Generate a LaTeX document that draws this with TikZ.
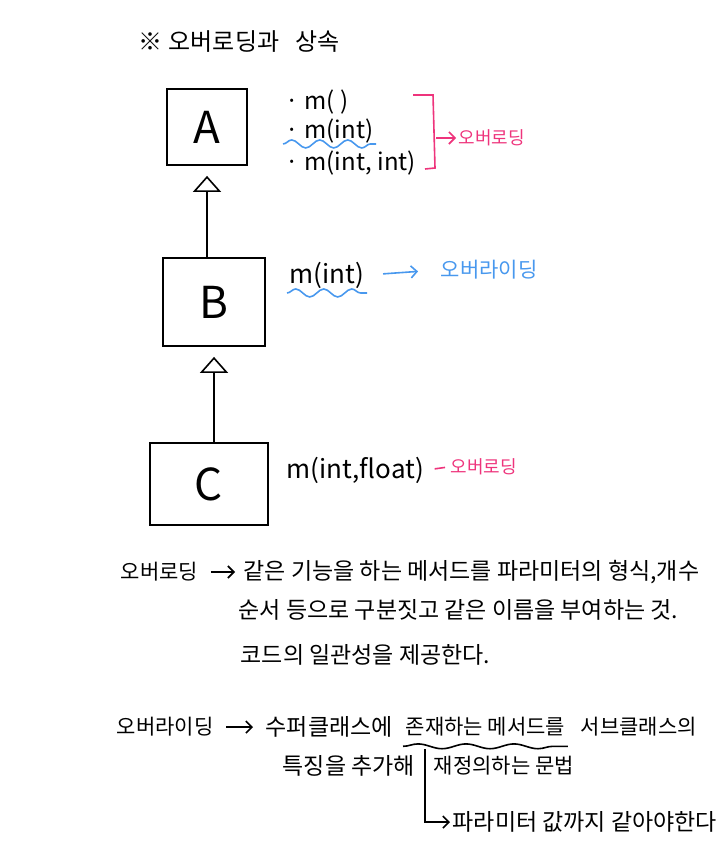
\documentclass[tikz,border=0pt]{standalone}
\usepackage{fontspec}
\setmainfont{Noto Sans CJK KR}
\usetikzlibrary{arrows.meta,decorations.pathmorphing}
\definecolor{notepink}{RGB}{238,52,124}
\definecolor{noteblue}{RGB}{72,152,238}

\begin{document}
\begin{tikzpicture}[x=0.5pt,y=-0.5pt,line width=0.8pt,>={Straight Barb[length=3pt,width=6pt]}]
                \tikzstyle{cls}=[rectangle,draw=black,line width=0.9pt,font=\fontsize{22}{24}\selectfont,inner sep=0pt]
                \tikzstyle{code}=[anchor=west,inner sep=1pt,font=\fontsize{13}{15}\selectfont]
                \tikzstyle{note}=[anchor=west,inner sep=1pt,font=\fontsize{11.5}{13}\selectfont]
                \tikzstyle{notesm}=[anchor=west,inner sep=1pt,font=\fontsize{10.5}{12}\selectfont]
                \tikzstyle{tag}=[anchor=west,inner sep=1pt,font=\fontsize{9}{11}\selectfont]
                \tikzstyle{inherit}=[-{Triangle[open,length=8pt,width=14pt]},shorten >=5pt]
                \tikzstyle{wavy}=[decorate,decoration={snake,amplitude=2pt,segment length=14pt}]
                \useasboundingbox (0,0) rectangle (720,849);

                \node[anchor=west,inner sep=1pt,font=\fontsize{12}{14}\selectfont] (title) at (136,42) {※\hspace{3pt}오버로딩과\hspace{8pt}상속};

                \foreach \name/\x/\y/\w/\h in {A/207/127/40pt/38pt, B/214/302/51pt/44pt, C/209/484/59pt/41pt}
                        \node[cls,minimum width=\w,minimum height=\h] (\name) at (\x,\y) {\name};

                    \draw[inherit] (B.north -| A.south) -- (A.south);
                    \draw[inherit] (C.north -| B.south) -- (B.south);

                \foreach \i/\y/\txt in {1/102/{· m( )}, 2/131/{· m(int)}, 3/163/{· m(int, int)}}
                        \node[code,font=\fontsize{12}{14}\selectfont] (ma\i) at (283,\y) {\txt};
                \node[code] (mb) at (287,275) {m(int)};
                \node[code] (mc) at (284,470) {m(int,float)};

                \draw[wavy,noteblue] ([yshift=1pt]ma2.south west) -- ([yshift=1pt]ma2.south east);
                \draw[wavy,noteblue] ([yshift=-1pt]mb.south west) -- ([yshift=-1pt]mb.south east);

                \coordinate (brtop) at (413,95);
                \coordinate (brbot) at (425,169);
                \coordinate (brmid) at (436,138);
                \draw[notepink] (brtop) -- ++(20,0) -- ++(2,73) -- (brbot);
                \node[tag,text=notepink] (ovl1) at (456,138) {오버로딩};
                \draw[->,notepink] (brmid) -- (ovl1.west);

                \node[notesm,text=noteblue] (ovr) at (438,270) {오버라이딩};
                \draw[->,noteblue,shorten <=8pt,shorten >=10pt] (mb.east) -- (ovr.west);

                \node[tag,text=notepink] (ovl2) at (448,467) {오버로딩};
                \draw[notepink,shorten <=4pt,shorten >=1.5pt] (mc.east) -- (ovl2.west);

                \node[notesm] (l1a) at (118,572) {오버로딩};
                \node[note] (l1b) at (241,572) {같은 기능을 하는 메서드를 파라미터의 형식,개수};
                \node[note] (l2) at (236,610) {순서 등으로 구분짓고 같은 이름을 부여하는 것.};
                \node[note] (l3) at (238,655) {코드의 일관성을 제공한다.};
                \draw[->,shorten <=5pt,shorten >=3pt] (l1a.east) -- (l1b.west);

                \node[notesm] (l4a) at (114,727) {오버라이딩};
                \node[note] (l4b) at (263,727) {수퍼클래스에};
                \node[notesm] (l4c) at (403,727) {존재하는 메서드를};
                \node[notesm] (l4d) at (578,727) {서브클래스의};
                \draw[->,shorten <=5pt,shorten >=5pt] (l4a.east) -- (l4b.west);
                \draw[decorate,decoration={snake,amplitude=1.2pt,segment length=24pt}] ([yshift=-3.5pt]l4c.south west) -- ([yshift=-3.5pt]l4c.south east);

                \node[note] (l5a) at (280,766) {특징을 추가해};
                \node[notesm] (l5b) at (431,766) {재정의하는 문법};
                \node[note] (l6) at (450,822) {파라미터 값까지 같아야한다};
                \draw[->] ([xshift=11pt,yshift=-5pt]l4c.south west) |- (l6.west);
            \end{tikzpicture}
\end{document}
